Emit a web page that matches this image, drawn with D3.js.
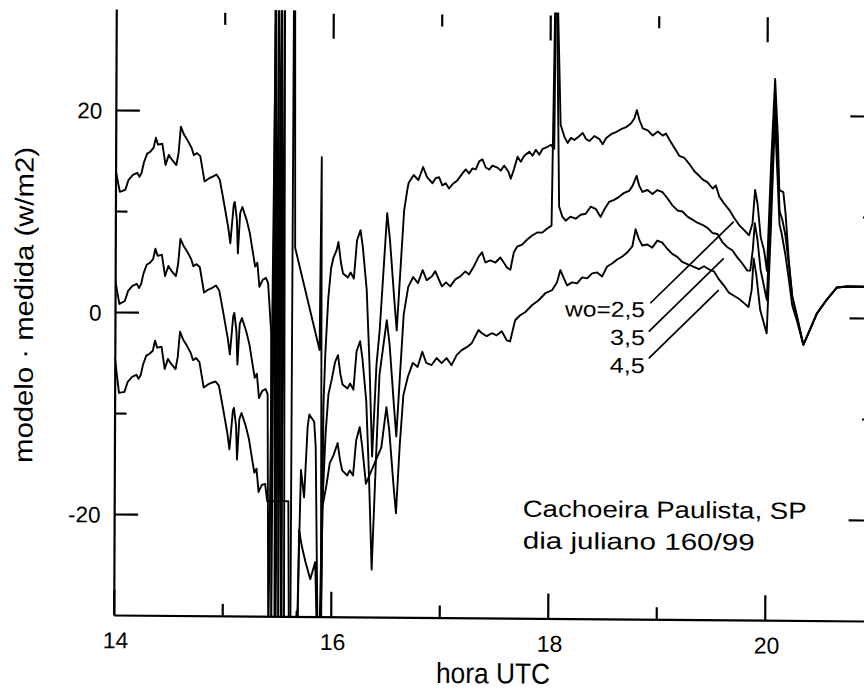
<!DOCTYPE html>
<html><head><meta charset="utf-8">
<script src="https://cdn.jsdelivr.net/npm/d3@7"></script>
<style>
html,body{margin:0;padding:0;background:#fff;}
svg{display:block;}
text{font-family:"Liberation Sans",Arial,sans-serif;fill:#000;}
</style></head>
<body>
<script>
// ---------- data (hour UTC, modelo - medida in W/m2) ----------
const xMajorTicks = [14, 16, 18, 20];
const xMinorTicks = [15, 17, 19];
const yMajorTicks = [-20, 0, 20];
const yMinorTicks = [-10, 10];
const xTickLabels = ["14", "16", "18", "20"];
const yTickLabels = ["-20", "0", "20"];
const seriesNames = ["wo=2,5", "3,5", "4,5"];

const wo25 = [[14.00,14.1],[14.04,11.9],[14.09,12.1],[14.12,13.1],[14.16,13.6],[14.20,13.8],[14.22,13.4],[14.24,13.8],[14.26,14.8],[14.29,15.7],[14.32,15.9],[14.35,16.3],[14.37,17.3],[14.39,16.6],[14.43,16.7],[14.46,14.6],[14.49,15.6],[14.52,15.1],[14.56,14.6],[14.58,15.8],[14.60,18.4],[14.63,17.6],[14.66,17.1],[14.70,16.3],[14.72,15.6],[14.75,15.8],[14.78,15.5],[14.82,13.0],[14.86,13.3],[14.90,13.5],[14.93,13.7],[14.96,13.2],[14.99,11.5],[15.04,8.5],[15.06,6.9],[15.09,10.7],[15.10,11.0],[15.12,9.2],[15.13,5.9],[15.15,9.9],[15.17,10.5],[15.21,9.2],[15.24,7.9],[15.27,5.9],[15.29,4.6],[15.31,5.0],[15.33,2.6],[15.36,3.3],[15.39,3.5],[15.41,3.0],[15.44,-1.9],
[15.452,-33],[15.468,33],[15.482,-33],[15.50,33],[15.515,-33],[15.53,33],[15.548,-33],[15.628,-33],[15.638,33],[15.648,33],[15.658,6.5],[15.887,-3.6],[15.90,15.5],[15.91,-33],[15.925,-9],[15.94,-4],[15.965,1.5],[15.99,4.5],[16.01,5.5],[16.04,6.3],[16.057,7.1],[16.08,5.1],[16.10,4.0],[16.145,3.6],[16.17,4.1],[16.20,3.5],[16.228,7.3],[16.26,8.3],[16.282,6.6],[16.319,2.4],[16.347,-4.8],[16.375,-14.1],[16.412,-5],[16.44,-1.6],[16.505,10.0],[16.532,7.3],[16.574,1.4],[16.597,-1.6],[16.629,4.4],[16.661,10.3],[16.689,12.3],[16.701,13.0],[16.747,13.8],[16.791,13.3],[16.834,14.6],[16.871,13.6],[16.92,13.0],[16.95,13.5],[16.982,13.6],[17.012,12.8],[17.043,13.0],[17.074,12.5],[17.113,13.0],[17.15,13.3],[17.197,14.0],[17.227,14.4],[17.258,14.0],[17.289,14.5],[17.319,14.4],[17.351,15.2],[17.381,15.4],[17.411,14.6],[17.443,14.4],[17.473,14.8],[17.519,14.6],[17.55,14.3],[17.581,14.8],[17.621,14.2],[17.642,13.5],[17.673,14.5],[17.704,15.7],[17.734,15.2],[17.766,15.8],[17.812,16.2],[17.842,15.8],[17.873,16.4],[17.904,15.9],[17.935,16.5],[17.981,16.7],[18.011,16.9],[18.042,16.5],[18.052,33],[18.066,33],[18.10,18.9],[18.135,17.7],[18.165,17.1],[18.196,17.6],[18.227,17.4],[18.273,17.8],[18.304,18.1],[18.334,17.5],[18.365,17.3],[18.411,17.8],[18.458,17.5],[18.488,17.0],[18.519,17.6],[18.565,18.0],[18.611,18.2],[18.657,18.5],[18.703,18.7],[18.749,19.1],[18.78,19.6],[18.802,20.4],[18.827,19.4],[18.857,18.6],[18.903,18.4],[18.949,17.9],[18.995,18.3],[19.041,17.9],[19.072,18.1],[19.103,17.5],[19.149,16.7],[19.196,15.9],[19.242,15.7],[19.288,15.1],[19.334,14.4],[19.364,14.1],[19.41,13.6],[19.457,13.3],[19.503,12.7],[19.533,13.0],[19.565,11.9],[19.611,11.2],[19.657,10.6],[19.703,9.8],[19.749,9.1],[19.795,8.6],[19.841,8.1],[19.872,9.3],[19.895,12.6],[19.918,11.2],[19.948,7.9],[19.98,6.6],[20.007,4.6],[20.041,15.2],[20.075,23.6],[20.102,17.9],[20.118,12.6],[20.155,12.4],[20.176,10.3],[20.21,5.4],[20.241,2.1],[20.287,0.1],[20.345,-2.7],[20.406,-1.2],[20.468,0.4],[20.56,1.8],[20.653,3.0],[20.745,3.1],[21.0,3.1]];

const wo35 = [[14.00,3.2],[14.04,0.8],[14.09,1.1],[14.12,2.1],[14.16,2.6],[14.20,2.8],[14.22,2.4],[14.24,2.8],[14.26,3.8],[14.29,4.7],[14.32,4.9],[14.35,5.3],[14.37,6.3],[14.39,5.6],[14.43,5.7],[14.46,3.6],[14.49,4.6],[14.52,4.1],[14.56,3.6],[14.58,4.8],[14.60,7.3],[14.63,6.6],[14.66,6.1],[14.70,5.3],[14.72,4.6],[14.75,4.8],[14.78,4.5],[14.82,2.0],[14.86,2.3],[14.90,2.5],[14.93,2.7],[14.96,2.2],[14.99,0.5],[15.04,-2.5],[15.06,-4.1],[15.09,-0.3],[15.10,0.0],[15.12,-1.8],[15.13,-5.1],[15.15,-1.1],[15.17,-0.5],[15.21,-1.8],[15.24,-3.1],[15.27,-5.1],[15.29,-6.4],[15.31,-6.0],[15.33,-8.4],[15.36,-7.7],[15.39,-7.5],[15.41,-8.0],
[15.425,-33],[15.475,33],[15.49,-33],[15.525,33],[15.54,-33],[15.555,33],[15.57,-33],[15.68,-33],[15.69,-31],[15.72,-15.5],[15.75,-18.2],[15.78,-11.2],[15.795,-10.0],[15.84,-10.7],[15.855,-13.2],[15.87,-24.8],[15.88,-33],[15.895,-33],[15.915,-20],[15.945,-12],[15.97,-8],[16.0,-6.5],[16.03,-4.8],[16.057,-4.1],[16.08,-6.0],[16.10,-7.0],[16.145,-7.4],[16.17,-6.9],[16.20,-7.5],[16.228,-3.7],[16.26,-2.7],[16.282,-4.4],[16.319,-8.6],[16.347,-16],[16.375,-25.3],[16.412,-14],[16.44,-6],[16.505,-0.6],[16.532,-3.0],[16.574,-9.0],[16.597,-12.1],[16.629,-6],[16.661,0],[16.701,2.7],[16.747,3.7],[16.791,3.1],[16.834,4.4],[16.871,3.4],[16.92,3.8],[16.95,4.3],[16.982,3.5],[17.012,2.8],[17.049,3.2],[17.089,2.8],[17.135,3.5],[17.181,3.8],[17.227,4.3],[17.261,4.0],[17.305,4.8],[17.351,5.8],[17.381,6.2],[17.411,5.2],[17.458,5.4],[17.504,5.2],[17.55,5.7],[17.581,5.2],[17.612,4.7],[17.642,4.5],[17.673,6.2],[17.704,6.8],[17.75,7.0],[17.796,7.5],[17.842,7.9],[17.888,8.2],[17.935,8.2],[17.981,8.6],[18.02,8.9],[18.048,33],[18.06,33],[18.089,10.8],[18.119,9.8],[18.15,9.4],[18.193,9.8],[18.242,9.6],[18.288,10.0],[18.334,10.1],[18.38,10.8],[18.426,10.6],[18.472,9.8],[18.504,10.5],[18.55,11.3],[18.596,11.5],[18.642,11.8],[18.688,12.2],[18.734,12.4],[18.765,12.9],[18.802,13.9],[18.827,12.9],[18.857,12.3],[18.903,12.5],[18.949,12.1],[18.995,12.5],[19.041,12.3],[19.087,11.7],[19.133,11.0],[19.18,10.5],[19.226,10.4],[19.272,9.9],[19.318,9.6],[19.364,9.3],[19.41,9.1],[19.457,8.8],[19.503,8.3],[19.549,8.2],[19.595,7.4],[19.641,6.9],[19.687,6.6],[19.733,5.9],[19.78,5.3],[19.826,4.6],[19.853,4.6],[19.876,6.7],[19.893,9.3],[19.918,7.7],[19.948,4.7],[20.007,1.7],[20.041,11.6],[20.075,21.8],[20.102,15.9],[20.121,10.5],[20.146,9.7],[20.176,8.1],[20.21,5.1],[20.241,2.1],[20.287,-0.1],[20.345,-2.7],[20.406,-1.2],[20.468,0.4],[20.56,1.8],[20.653,3.0],[20.745,3.1],[21.0,3.1]];

const wo45 = [[14.00,-4.5],[14.04,-8.0],[14.09,-7.9],[14.12,-6.9],[14.16,-6.4],[14.20,-6.2],[14.22,-6.6],[14.24,-6.2],[14.26,-5.2],[14.29,-4.3],[14.32,-4.1],[14.35,-3.8],[14.37,-2.8],[14.39,-3.5],[14.43,-3.4],[14.46,-5.6],[14.49,-4.6],[14.52,-5.1],[14.56,-5.6],[14.58,-4.4],[14.60,-1.9],[14.63,-2.7],[14.66,-3.2],[14.70,-4.0],[14.72,-4.7],[14.75,-4.5],[14.78,-4.9],[14.82,-7.4],[14.86,-7.1],[14.90,-6.9],[14.93,-6.8],[14.96,-7.2],[14.99,-8.9],[15.04,-11.9],[15.06,-13.5],[15.09,-9.7],[15.10,-9.4],[15.12,-11.2],[15.13,-14.5],[15.15,-10.5],[15.17,-9.9],[15.21,-11.2],[15.24,-12.5],[15.27,-14.5],[15.29,-15.8],[15.31,-15.4],[15.33,-17.7],[15.36,-17.0],[15.39,-16.9],[15.41,-18.6],[15.605,-18.6],[15.615,-33],[15.67,-33],[15.685,-29.5],[15.695,-31],[15.705,-21.4],[15.73,-23.0],[15.765,-24.6],[15.81,-26.3],[15.855,-24.6],[15.875,-33],[15.905,-33],[15.92,-19.1],[15.955,-17],[15.985,-14.8],[16.02,-14],[16.057,-12.8],[16.08,-14.5],[16.10,-15.5],[16.145,-16.0],[16.17,-15.5],[16.20,-16.0],[16.228,-12.5],[16.26,-11.2],[16.282,-13],[16.319,-16.8],[16.46,-13.2],[16.505,-9.2],[16.532,-11.5],[16.574,-17],[16.597,-19.7],[16.629,-13],[16.661,-8],[16.701,-6.2],[16.747,-4.8],[16.791,-5.2],[16.834,-3.7],[16.871,-4.8],[16.92,-5.0],[16.966,-4.3],[17.012,-4.8],[17.058,-4.3],[17.104,-5.0],[17.15,-4.0],[17.197,-3.5],[17.243,-3.2],[17.289,-2.8],[17.351,-1.5],[17.381,-1.8],[17.427,-2.1],[17.473,-1.8],[17.519,-2.0],[17.565,-1.6],[17.612,-2.5],[17.642,-2.6],[17.688,-0.5],[17.734,0.0],[17.78,0.3],[17.842,1.0],[17.904,1.5],[17.965,2.2],[18.027,2.5],[18.073,3.3],[18.103,4.5],[18.135,3.7],[18.165,3.0],[18.211,3.3],[18.257,3.2],[18.304,3.8],[18.35,3.7],[18.396,4.2],[18.442,4.3],[18.488,3.9],[18.534,4.9],[18.58,5.2],[18.626,5.6],[18.673,5.9],[18.719,6.3],[18.765,6.9],[18.795,8.6],[18.827,7.6],[18.857,7.0],[18.903,7.1],[18.949,6.8],[18.995,7.5],[19.041,7.3],[19.087,6.7],[19.133,6.2],[19.18,5.9],[19.226,5.4],[19.272,5.2],[19.318,5.0],[19.38,4.7],[19.426,5.0],[19.472,4.7],[19.518,4.5],[19.565,3.7],[19.611,3.1],[19.657,2.4],[19.703,2.1],[19.749,1.8],[19.795,1.4],[19.838,1.0],[19.867,2.7],[19.884,5.8],[19.909,4.2],[19.946,0.7],[20.007,-1.6],[20.041,8.6],[20.075,19.7],[20.102,13.6],[20.121,9.2],[20.139,8.4],[20.176,6.2],[20.21,3.7],[20.241,1.2],[20.287,-0.4],[20.345,-2.7],[20.406,-1.2],[20.468,0.4],[20.56,1.8],[20.653,3.0],[20.745,3.1],[21.0,3.1]];

// ---------- layout ----------
const W = 864, H = 689;
const x = d3.scaleLinear().domain([14, 21]).range([115, 874.5]);
const y = d3.scaleLinear().domain([-30, 30]).range([618, 12]);

// label / leader positions in data units
const seriesLabelPos = [
  {t: 18.885, v: -0.08, len: 80, from: [18.933, 1.29], to: [19.699, 9.43]},
  {t: 18.885, v: -2.85, len: 35, from: [18.920, -1.52], to: [19.608, 5.80]},
  {t: 18.885, v: -5.62, len: 35, from: [18.921, -4.16], to: [19.563, 2.65]}
];
const titleLines = ["Cachoeira Paulista, SP", "dia juliano 160/99"];
const titlePos = [{t: 17.765, v: -19.94, len: 284}, {t: 17.767, v: -23.1, len: 232}];

const svg = d3.select("body").append("svg").attr("width", W).attr("height", H);
svg.append("rect").attr("width", W).attr("height", H).attr("fill", "#fff");

// slight scan skew of the original page
const g = svg.append("g").attr("transform", "matrix(1,0.008,-0.0042,1,1.323,-3.92)");

g.append("clipPath").attr("id", "plotclip").append("rect")
  .attr("x", x(14)).attr("y", y(30)).attr("width", x(21) - x(14)).attr("height", y(-30) - y(30));

// ---------- axes ----------
function styleAxis(sel) {
  sel.selectAll("path.domain").attr("stroke", "#000").attr("stroke-width", 2.2);
  sel.selectAll(".tick line").attr("stroke", "#000").attr("stroke-width", 2.2);
}
const axLeft = g.append("g").attr("transform", `translate(${x(14)},0)`)
  .call(d3.axisLeft(y).tickValues(yMajorTicks).tickSizeInner(-24).tickSizeOuter(0).tickPadding(13.5)
    .tickFormat((d, i) => yTickLabels[i]));
styleAxis(axLeft);
axLeft.selectAll("text").attr("font-size", 22.5).attr("dy", "0.36em").attr("fill", "#000")
  .attr("font-family", '"Liberation Sans",Arial,sans-serif');
const axLeftMinor = g.append("g").attr("transform", `translate(${x(14)},0)`)
  .call(d3.axisLeft(y).tickValues(yMinorTicks).tickSize(-12).tickFormat(""));
axLeftMinor.select("path.domain").remove(); styleAxis(axLeftMinor);

const axRight = g.append("g").attr("transform", `translate(${x(21)},0)`)
  .call(d3.axisRight(y).tickValues(yMajorTicks).tickSizeInner(-25).tickSizeOuter(0).tickFormat(""));
styleAxis(axRight);
const axRightMinor = g.append("g").attr("transform", `translate(${x(21)},0)`)
  .call(d3.axisRight(y).tickValues(yMinorTicks).tickSize(-12).tickFormat(""));
axRightMinor.select("path.domain").remove(); styleAxis(axRightMinor);

const axBottom = g.append("g").attr("transform", `translate(0,${y(-30)})`)
  .call(d3.axisBottom(x).tickValues(xMajorTicks).tickSizeInner(-25).tickSizeOuter(0).tickPadding(17)
    .tickFormat((d, i) => xTickLabels[i]));
styleAxis(axBottom);
axBottom.selectAll("text").attr("font-size", 23).attr("dx", "1.5").attr("fill", "#000")
  .attr("font-family", '"Liberation Sans",Arial,sans-serif');
const axBottomMinor = g.append("g").attr("transform", `translate(0,${y(-30)})`)
  .call(d3.axisBottom(x).tickValues(xMinorTicks).tickSize(-12).tickFormat(""));
axBottomMinor.select("path.domain").remove(); styleAxis(axBottomMinor);

const axTop = g.append("g").attr("transform", `translate(0,${y(30) + 3})`)
  .call(d3.axisTop(x).tickValues(xMajorTicks.filter(d => d > 14)).tickSize(-25).tickFormat(""));
axTop.select("path.domain").remove(); styleAxis(axTop);
const axTopMinor = g.append("g").attr("transform", `translate(0,${y(30) + 3})`)
  .call(d3.axisTop(x).tickValues(xMinorTicks).tickSize(-12).tickFormat(""));
axTopMinor.select("path.domain").remove(); styleAxis(axTopMinor);

// ---------- series ----------
const line = d3.line().x(d => x(d[0])).y(d => y(d[1]));
const linesG = g.append("g").attr("clip-path", "url(#plotclip)");
[wo25, wo35, wo45].forEach(s => {
  linesG.append("path").datum(s).attr("d", line)
    .attr("fill", "none").attr("stroke", "#000").attr("stroke-width", 1.9)
    .attr("stroke-linejoin", "round");
});

// ---------- series labels with leaders ----------
seriesNames.forEach((name, i) => {
  const p = seriesLabelPos[i];
  g.append("text").attr("x", x(p.t)).attr("y", y(p.v)).attr("text-anchor", "end")
    .attr("font-size", 21.5).attr("textLength", p.len).attr("lengthAdjust", "spacingAndGlyphs")
    .text(name);
  g.append("line").attr("x1", x(p.from[0])).attr("y1", y(p.from[1]))
    .attr("x2", x(p.to[0])).attr("y2", y(p.to[1]))
    .attr("stroke", "#000").attr("stroke-width", 1.7);
});

// ---------- title inside plot ----------
titleLines.forEach((txt, i) => {
  const p = titlePos[i];
  g.append("text").attr("x", x(p.t)).attr("y", y(p.v)).attr("font-size", 23.5)
    .attr("textLength", p.len).attr("lengthAdjust", "spacingAndGlyphs").text(txt);
});

// ---------- axis titles ----------
g.append("text").attr("x", 494.5).attr("y", 683.3).attr("text-anchor", "middle")
  .attr("font-size", 29).attr("textLength", 114).attr("lengthAdjust", "spacingAndGlyphs")
  .text("hora UTC");
g.append("text").attr("transform", "translate(33,308.7) rotate(-90)").attr("text-anchor", "middle")
  .attr("font-size", 26).attr("textLength", 316).attr("lengthAdjust", "spacingAndGlyphs")
  .text("modelo · medida (w/m2)");
</script>
</body></html>
